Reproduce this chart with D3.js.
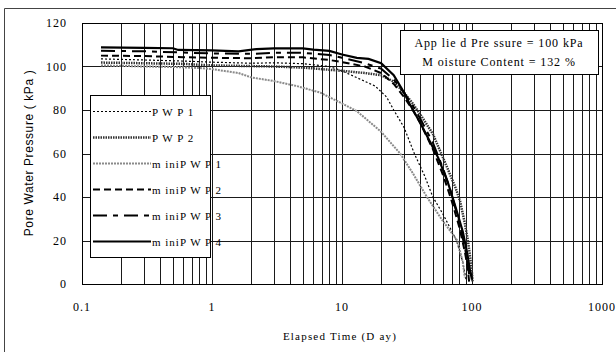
<!DOCTYPE html>
<html>
<head>
<meta charset="utf-8">
<script src="https://cdn.jsdelivr.net/npm/d3@7"></script>
<style>
  body { margin: 0; background: #fff; }
  svg text { fill: #000; }
</style>
</head>
<body>
<svg id="chart" width="616" height="352"></svg>
<script>
// x values in days, y values in kPa
const pwp1 = [[0.14,103.5],[0.3,103],[0.6,102.5],[1,102],[2,101.5],[3,101.7],[5,101.3],[8,100],[10,98],[14,94],[18,91],[22,86],[25,80],[30,72],[36,60],[43,50],[50,40],[60,32],[76,20],[85,10],[90,2]];
const pwp2 = [[0.14,101.8],[0.3,101.5],[0.6,101.2],[1,100.5],[2,100.2],[3,100],[5,99.5],[8,98.5],[10,98],[15,97],[20,96],[25,93],[30,88],[35,83],[40,78],[50,69],[57,61],[65,53],[75,44],[81,38],[88,28],[93,20],[97,12],[100,5],[101,1]];
const miniPwp1 = [[0.14,100.5],[0.2,100.3],[0.3,100],[0.5,99.8],[0.8,99.3],[1,98.8],[1.6,97],[2,95],[3,93.3],[4.5,91],[6.8,88],[10,83],[13,79.5],[20,70],[28,60],[35,51],[45,40],[58,30],[77,20],[85,10],[88,3]];
const miniPwp2 = [[0.14,105],[0.3,104.8],[0.6,104.3],[1,104],[2,103.8],[3,104.3],[5,104.2],[8,103],[10,102],[15,100],[20,97],[25,92],[30,86],[35,80],[40,74],[50,62],[60,50],[70,38],[80,26],[88,15],[93,7],[95,1]];
const miniPwp3 = [[0.14,107.2],[0.3,107],[0.6,106.4],[1,106],[2,105.8],[3,106.3],[5,106.3],[8,105.3],[10,104],[15,101.5],[20,99],[25,94],[30,88],[35,82],[40,76],[50,65],[60,53],[70,41],[80,28],[88,17],[93,9],[96,2]];
const miniPwp4 = [[0.14,108.8],[0.3,108.6],[0.5,108.4],[0.55,107.6],[1,107.4],[1.6,107],[2.2,108],[3,108.3],[5,108.3],[6,107.8],[8,107.2],[10,105.5],[13,104],[16,103.5],[20,101.5],[25,96],[30,88],[33,83],[40,74],[47,66],[55,58],[65,47],[75,35],[85,24],[92,14],[96,7],[100,2]];

const seriesNames = ['PWP 1', 'PWP 2', 'miniPWP 1', 'miniPWP 2', 'miniPWP 3', 'miniPWP 4'];
const seriesData = [pwp1, pwp2, miniPwp1, miniPwp2, miniPwp3, miniPwp4];
const legendLabels = ['P W P  1', 'P W P  2', 'm iniP W P  1', 'm iniP W P  2', 'm iniP W P  3', 'm iniP W P  4'];

const xTicks = [0.1, 1, 10, 100, 1000];
const xTickLabels = ['0.1', '1', '10', '100', '1000'];
const yTicks = [0, 20, 40, 60, 80, 100, 120];

const styles = [
  {stroke: '#000', width: 1.2, dash: '2,2'},
  {stroke: '#333', width: 2.5, dash: '1.5,1'},
  {stroke: '#8a8a8a', width: 2, dash: '2,1'},
  {stroke: '#000', width: 2, dash: '7,4'},
  {stroke: '#000', width: 2, dash: '14,6,5,6'},
  {stroke: '#000', width: 2.2, dash: null}
];

const svg = d3.select('#chart');
const plotLeft = 82, plotRight = 602, plotTop = 23, plotBottom = 284;

const x = d3.scaleLog().domain([0.1, 1000]).range([plotLeft, plotRight]);
const y = d3.scaleLinear().domain([0, 120]).range([plotBottom, plotTop]);

// outer frame
svg.append('path')
  .attr('d', 'M4.5,352 V8.5 H616')
  .attr('fill', 'none').attr('stroke', '#444').attr('stroke-width', 1);

// grid
const minor = [];
for (let d = 0.1; d < 999; d *= 10) {
  for (let k = 1; k <= 9; k++) minor.push(d * k);
}
svg.append('g').selectAll('line')
  .data(minor.filter(v => v > 0.11))
  .enter().append('line')
  .attr('x1', d => Math.round(x(d)) + 0.5).attr('x2', d => Math.round(x(d)) + 0.5)
  .attr('y1', plotTop).attr('y2', plotBottom)
  .attr('stroke', '#1a1a1a').attr('stroke-width', 1);
svg.append('g').selectAll('line')
  .data(yTicks)
  .enter().append('line')
  .attr('x1', plotLeft).attr('x2', plotRight)
  .attr('y1', d => Math.round(y(d)) + 0.5).attr('y2', d => Math.round(y(d)) + 0.5)
  .attr('stroke', '#1a1a1a').attr('stroke-width', 1);
svg.append('rect')
  .attr('x', plotLeft + 0.5).attr('y', plotTop + 0.5)
  .attr('width', plotRight - plotLeft).attr('height', plotBottom - plotTop)
  .attr('fill', 'none').attr('stroke', '#000');

// curves
const line = d3.line().x(d => x(d[0])).y(d => y(d[1]));
const plot = svg.append('g');
seriesData.forEach((data, i) => {
  plot.append('path')
    .datum(data)
    .attr('d', line)
    .attr('fill', 'none')
    .attr('stroke', styles[i].stroke)
    .attr('stroke-width', styles[i].width)
    .attr('stroke-dasharray', styles[i].dash);
});

// axis labels
const serif = '"Liberation Serif", "Times New Roman", serif';
svg.append('g').selectAll('text')
  .data(yTicks)
  .enter().append('text')
  .attr('x', 67).attr('y', d => y(d) + 4)
  .attr('text-anchor', 'end')
  .style('font', '12px ' + serif).style('letter-spacing', '1px')
  .text(d => d);
svg.append('g').selectAll('text')
  .data(xTicks)
  .enter().append('text')
  .attr('x', d => x(d)).attr('y', 311)
  .attr('text-anchor', 'middle')
  .style('font', '12px ' + serif).style('letter-spacing', '1px')
  .text((d, i) => xTickLabels[i]);

svg.append('text')
  .attr('x', 340).attr('y', 340)
  .attr('text-anchor', 'middle')
  .style('font', '11px ' + serif).style('letter-spacing', '1.2px')
  .text('Elapsed Time (D ay)');
svg.append('text')
  .attr('transform', 'translate(33,153) rotate(-90)')
  .attr('text-anchor', 'middle')
  .style('font', '12px "Liberation Sans", Arial, sans-serif').style('letter-spacing', '0.6px')
  .text('Pore Water Pressure ( kPa )');

// legend
const legend = svg.append('g');
legend.append('rect')
  .attr('x', 90.5).attr('y', 95.5).attr('width', 120).attr('height', 162)
  .attr('fill', '#fff').attr('stroke', '#000');
const legendY = [111.5, 137.5, 163.5, 189.5, 215.5, 241.5];
seriesNames.forEach((name, i) => {
  legend.append('line')
    .attr('x1', 93).attr('x2', 151)
    .attr('y1', legendY[i]).attr('y2', legendY[i])
    .attr('stroke', styles[i].stroke)
    .attr('stroke-width', styles[i].width)
    .attr('stroke-dasharray', styles[i].dash);
  legend.append('text')
    .attr('x', 152).attr('y', legendY[i] + 4)
    .style('font', '11px ' + serif).style('letter-spacing', '1px')
    .text(legendLabels[i]);
});

// annotation box
const note = svg.append('g');
note.append('rect')
  .attr('x', 400.5).attr('y', 30.5).attr('width', 198).attr('height', 44)
  .attr('fill', '#fff').attr('stroke', '#000');
note.append('text')
  .attr('x', 499).attr('y', 47).attr('text-anchor', 'middle')
  .style('font', '12px ' + serif).style('letter-spacing', '0.9px')
  .text('App lie d Pre ssure  =  100 kPa');
note.append('text')
  .attr('x', 499).attr('y', 66).attr('text-anchor', 'middle')
  .style('font', '12px ' + serif).style('letter-spacing', '0.9px')
  .text('M oisture  Content  =  132 %');
</script>
</body>
</html>
